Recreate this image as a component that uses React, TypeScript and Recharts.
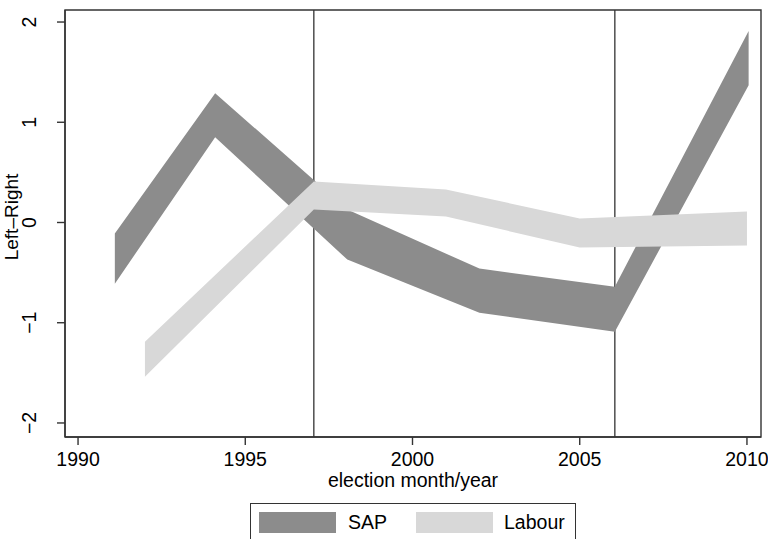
import { ComposedChart, Area, XAxis, YAxis, ReferenceLine, ReferenceArea } from "recharts";

// election dates (decimal years) and left-right range per party
const sapYears = [1991.1, 1994.1, 1998.05, 2002.0, 2006.05, 2010.05];
const sapLow = [-0.61, 0.85, -0.37, -0.9, -1.09, 1.37];
const sapHigh = [-0.11, 1.29, 0.13, -0.46, -0.64, 1.91];

const labourYears = [1992.0, 1997.05, 2001.0, 2005.0, 2010.0];
const labourLow = [-1.54, 0.13, 0.06, -0.25, -0.23];
const labourHigh = [-1.19, 0.41, 0.33, 0.04, 0.11];

// government changes
const govChanges = [1997.05, 2006.05];

const xTicks = [1990, 1995, 2000, 2005, 2010];
const yTicks = [-2, -1, 0, 1, 2];

const X_DOMAIN: [number, number] = [1989.61, 2010.42];
const Y_DOMAIN: [number, number] = [-2.14, 2.12];

const FONT = '"Liberation Sans", Arial, Helvetica, sans-serif';
const SAP_COLOR = "#8c8c8c";
const LABOUR_COLOR = "#d8d8d8";
const AXIS_COLOR = "#333";

const sapData = sapYears.map((x, i) => ({ x, range: [sapLow[i], sapHigh[i]] }));
const labourData = labourYears.map((x, i) => ({ x, range: [labourLow[i], labourHigh[i]] }));

const fmt = (v: number) => (v < 0 ? `\u2212${Math.abs(v)}` : `${v}`);

function XTick({ x, payload }: any) {
  return (
    <text x={x} y={466} textAnchor="middle" fontSize={19.5} fill="#000" fontFamily={FONT}>
      {payload.value}
    </text>
  );
}

function YTick({ y, payload }: any) {
  return (
    <text
      x={36}
      y={y}
      transform={`rotate(-90, 36, ${y})`}
      textAnchor="middle"
      fontSize={19.5}
      fill="#000"
      fontFamily={FONT}
    >
      {fmt(payload.value)}
    </text>
  );
}

function XLabel() {
  return (
    <text x={413} y={487} textAnchor="middle" fontSize={19.5} fill="#000" fontFamily={FONT}>
      election month/year
    </text>
  );
}

function YLabel() {
  return (
    <text
      x={18}
      y={217}
      transform="rotate(-90, 18, 217)"
      textAnchor="middle"
      fontSize={19}
      fill="#000"
      fontFamily={FONT}
    >
      Left–Right
    </text>
  );
}

function LegendBox() {
  const swatch = (left: number, color: string) => (
    <div style={{ position: "absolute", left, top: 8, width: 77, height: 21, background: color }} />
  );
  const label = (left: number, text: string) => (
    <div
      style={{
        position: "absolute",
        left,
        top: 7,
        fontSize: 19.5,
        lineHeight: "22px",
        fontFamily: FONT,
        color: "#000",
      }}
    >
      {text}
    </div>
  );
  return (
    <div
      style={{
        position: "absolute",
        left: 250,
        top: 503,
        width: 326,
        height: 50,
        border: `1.5px solid ${AXIS_COLOR}`,
        background: "#fff",
        boxSizing: "border-box",
      }}
    >
      {swatch(8, SAP_COLOR)}
      {label(97, "SAP")}
      {swatch(165, LABOUR_COLOR)}
      {label(253, "Labour")}
    </div>
  );
}

export default function App() {
  return (
    <div
      style={{
        position: "absolute",
        left: 0,
        top: 0,
        width: 768,
        height: 539,
        overflow: "hidden",
        background: "#fff",
      }}
    >
      <ComposedChart width={768} height={539} margin={{ top: 10, right: 7, bottom: 0, left: 0 }}>
        <XAxis
          type="number"
          dataKey="x"
          domain={X_DOMAIN}
          ticks={xTicks}
          allowDataOverflow
          height={102}
          tickSize={8}
          tick={<XTick />}
          stroke={AXIS_COLOR}
          strokeWidth={1.4}
          label={<XLabel />}
        />
        <YAxis
          type="number"
          domain={Y_DOMAIN}
          ticks={yTicks}
          allowDataOverflow
          width={65}
          tickSize={8}
          tick={<YTick />}
          stroke={AXIS_COLOR}
          strokeWidth={1.4}
          label={<YLabel />}
        />
        {/* vertical lines sit under the bands, as in the original */}
        {govChanges.map((g) => (
          <ReferenceLine key={g} x={g} stroke={AXIS_COLOR} strokeWidth={1.3} zIndex={50} />
        ))}
        <Area
          data={sapData}
          dataKey="range"
          type="linear"
          fill={SAP_COLOR}
          fillOpacity={1}
          stroke="none"
          isAnimationActive={false}
        />
        <Area
          data={labourData}
          dataKey="range"
          type="linear"
          fill={LABOUR_COLOR}
          fillOpacity={1}
          stroke="none"
          isAnimationActive={false}
        />
        <ReferenceArea
          x1={X_DOMAIN[0]}
          x2={X_DOMAIN[1]}
          y1={Y_DOMAIN[0]}
          y2={Y_DOMAIN[1]}
          fill="none"
          stroke={AXIS_COLOR}
          strokeWidth={1.4}
        />
      </ComposedChart>
      <LegendBox />
    </div>
  );
}
